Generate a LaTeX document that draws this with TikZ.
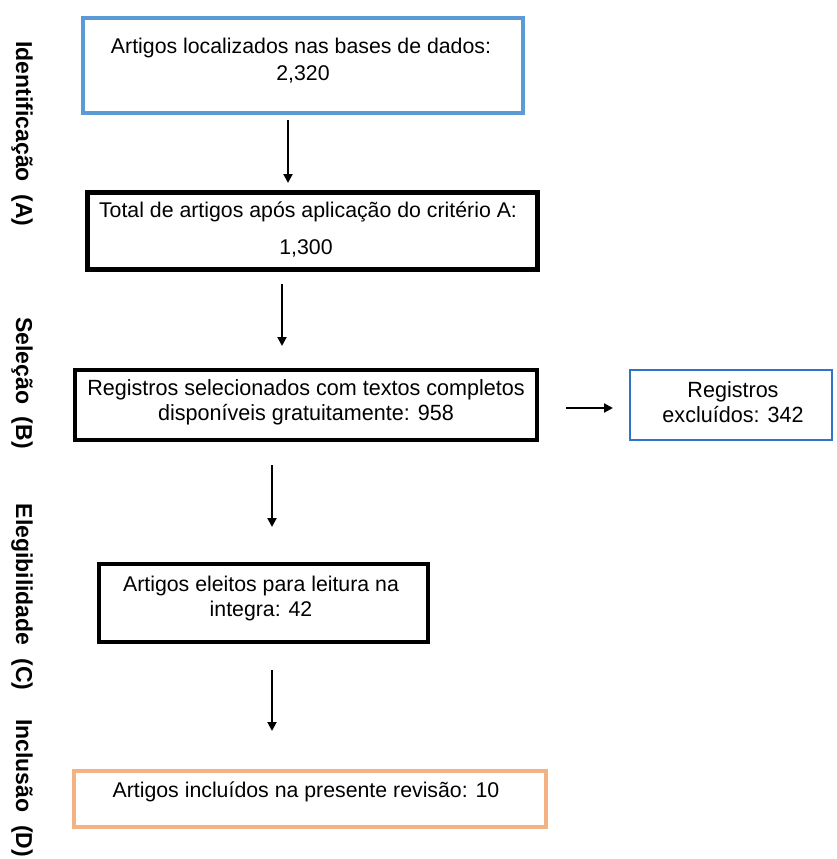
\documentclass[tikz,border=0pt]{standalone}
\usepackage{fontspec}
\setmainfont{Liberation Sans}
\usetikzlibrary{arrows.meta}
\definecolor{bluebox}{RGB}{91,155,213}
\definecolor{bluethin}{RGB}{46,117,200}
\definecolor{orangebox}{RGB}{244,177,131}
\tikzset{
  box/.style={draw, rectangle, inner sep=0pt},
  txt/.style={inner sep=0pt, align=center, font=\fontsize{21.3}{25}\selectfont},
  narrow/.style={inner sep=0pt, align=center, font=\fontsize{22}{25}\selectfont, xscale=0.98},
  side/.style={inner sep=0pt, rotate=-90, font=\fontsize{23}{26}\selectfont\bfseries},
  arr/.style={line width=2pt, -{Triangle[length=9pt,width=9pt]}}
}
\begin{document}
\begin{tikzpicture}[x=1pt,y=-1pt]
\useasboundingbox (0,0) rectangle (837,859);
% boxes
\node[box, draw=bluebox, line width=4pt, minimum width=440pt, minimum height=95pt] (b1) at (303,65.5) {};
\node[box, line width=5pt, minimum width=450pt, minimum height=77pt] (b2) at (312,230.5) {};
\node[box, line width=4pt, minimum width=462pt, minimum height=70pt] (b3) at (306,405) {};
\node[box, draw=bluethin, line width=2pt, minimum width=202pt, minimum height=70pt] (b4) at (731,405) {};
\node[box, line width=4.5pt, minimum width=329pt, minimum height=78pt] (b5) at (263.5,603) {};
\node[box, draw=orangebox, line width=4pt, minimum width=472pt, minimum height=56pt] (b6) at (310,799) {};
% texts
\node[txt] (t1a) at (301,48) {Artigos localizados nas bases de dados:};
\node[txt] (t1b) at (303,74) {2,320};
\node[txt] (t2a) at (308,212) {Total de artigos após aplicação do critério A:};
\node[txt] (t2b) at (306,248) {1,300};
\node[narrow] (t3) at (306,402) {Registros selecionados com textos completos\\disponíveis gratuitamente: 958};
\node[narrow] (t4) at (733,402) {Registros\\excluídos: 342};
\node[txt] (t5) at (261,598) {Artigos eleitos para leitura na\\integra: 42};
\node[txt] (t6) at (306,792) {Artigos incluídos na presente revisão: 10};
% side labels
\node[side] (s1) at (22,134) {Identificação\ \ (A)};
\node[side] (s2) at (22,383) {Seleção\ \ (B)};
\node[side] (s3) at (22,597) {Elegibilidade\ \ (C)};
\node[side] (s4) at (22,788) {Inclusão\ \ (D)};
% arrows
\coordinate (a1s) at (288,120); \coordinate (a1e) at (288,183);
\coordinate (a2s) at (282,284); \coordinate (a2e) at (282,346);
\coordinate (a3s) at (566,408); \coordinate (a3e) at (613,408);
\coordinate (a4s) at (272,465); \coordinate (a4e) at (272,527);
\coordinate (a5s) at (272,670); \coordinate (a5e) at (272,731);
\draw[arr] (a1s) -- (a1e);
\draw[arr] (a2s) -- (a2e);
\draw[arr] (a3s) -- (a3e);
\draw[arr] (a4s) -- (a4e);
\draw[arr] (a5s) -- (a5e);
\end{tikzpicture}
\end{document}
